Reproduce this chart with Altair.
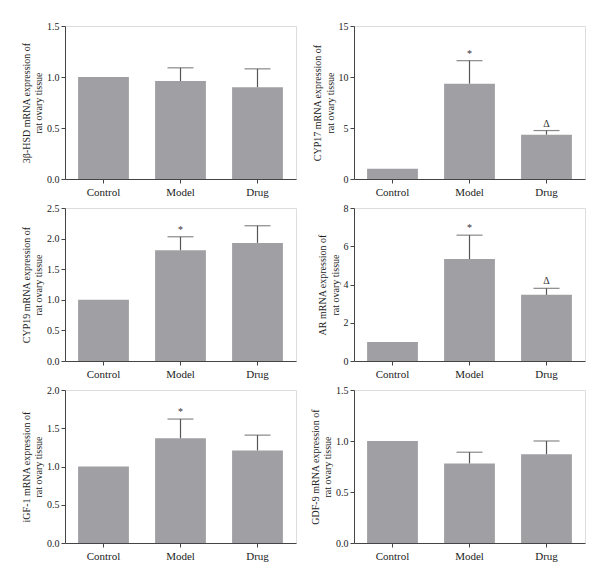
import altair as alt
import pandas as pd

groups = ["Control", "Model", "Drug"]

titles = [
    ["3β-HSD mRNA expression of", "rat ovary tissue"],
    ["CYP17 mRNA expression of", "rat ovary tissue"],
    ["CYP19 mRNA expression of", "rat ovary tissue"],
    ["AR mRNA expression of", "rat ovary tissue"],
    ["iGF-1 mRNA expression of", "rat ovary tissue"],
    ["GDF-9 mRNA expression of", "rat ovary tissue"],
]

means = [
    [1.0, 0.96, 0.90],
    [1.0, 9.35, 4.35],
    [1.0, 1.81, 1.93],
    [1.0, 5.33, 3.46],
    [1.0, 1.37, 1.21],
    [1.0, 0.78, 0.87],
]

upper = [
    [1.0, 1.09, 1.08],
    [1.0, 11.6, 4.75],
    [1.0, 2.03, 2.21],
    [1.0, 6.58, 3.80],
    [1.0, 1.62, 1.41],
    [1.0, 0.89, 1.00],
]

marks = [
    ["", "", ""],
    ["", "*", "Δ"],
    ["", "*", ""],
    ["", "*", "Δ"],
    ["", "*", ""],
    ["", "", ""],
]

y_max = [1.5, 15, 2.5, 8, 2.0, 1.5]
y_ticks = [
    [0, 0.5, 1.0, 1.5],
    [0, 5, 10, 15],
    [0, 0.5, 1.0, 1.5, 2.0, 2.5],
    [0, 2, 4, 6, 8],
    [0, 0.5, 1.0, 1.5, 2.0],
    [0, 0.5, 1.0, 1.5],
]
y_formats = [".1f", "d", ".1f", "d", ".1f", ".1f"]

FONT = "Liberation Serif"
BAR = "#a0a0a4"
AX = "#444444"

W, H = 231, 153

panels = []
for i in range(6):
    df = pd.DataFrame({
        "group": groups,
        "mean": means[i],
        "upper": upper[i],
        "mark": marks[i],
    })
    base = alt.Chart(df)
    xaxis = alt.Axis(labelAngle=0, labelFont=FONT, labelFontSize=11,
                     labelColor="#222", domainColor=AX, tickColor=AX,
                     tickSize=4, labelPadding=3, domainWidth=1)
    xscale = alt.Scale(paddingInner=0.34, paddingOuter=0.17)
    x = alt.X("group:N", sort=groups, title=None, scale=xscale, axis=xaxis)
    yscale = alt.Scale(domain=[0, y_max[i]], nice=False)
    yaxis = alt.Axis(values=y_ticks[i], format=y_formats[i], grid=False,
                     labelOverlap=False,
                     labelFont=FONT, labelFontSize=10, labelColor="#222",
                     titleFont=FONT, titleFontSize=10, titleFontWeight="normal",
                     titleColor="#222", titleLineHeight=12.5, titlePadding=3,
                     domainColor=AX, tickColor=AX, tickSize=4, labelPadding=2)
    ym = alt.Y("mean:Q", title=titles[i], scale=yscale, axis=yaxis)
    yu = alt.Y("upper:Q", title=titles[i], scale=yscale, axis=yaxis)
    bars = base.mark_bar(color=BAR).encode(x=x, y=ym)
    err = base.transform_filter("datum.upper > datum.mean").mark_rule(
        color="#555", strokeWidth=1.2).encode(x=x, y=ym, y2="upper:Q")
    cap = base.transform_filter("datum.upper > datum.mean").mark_tick(
        color="#555", size=26, thickness=1.2).encode(x=x, y=yu)
    txt = base.transform_filter("datum.mark != ''").mark_text(
        font=FONT, fontSize=10, dy=-7, color="#333").encode(
        x=x, y=yu, text="mark:N")
    panels.append(alt.layer(bars, err, cap, txt).properties(width=W, height=H))

chart = alt.concat(*panels, columns=2, spacing={"row": 4, "column": 12}).properties(
    padding={"left": 12, "top": 12, "right": 5, "bottom": 5}
).configure_view(stroke=None).configure(background="white")

chart.save("out.html", embed_options={"renderer": "svg", "actions": False})
